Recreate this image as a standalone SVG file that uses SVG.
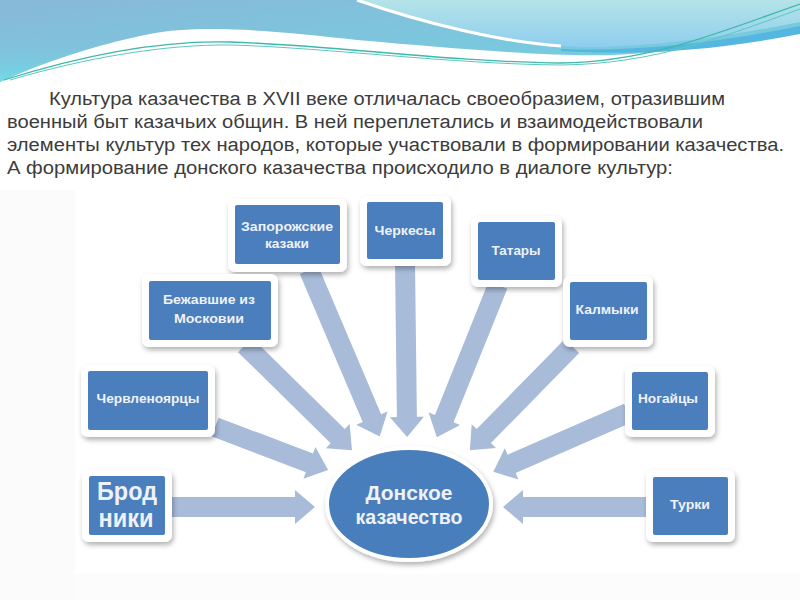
<svg xmlns="http://www.w3.org/2000/svg" width="800" height="600" viewBox="0 0 800 600">
<defs>
<linearGradient id="gBand" x1="0" y1="0" x2="1" y2="1">
<stop offset="0" stop-color="#88b9d8"/>
<stop offset="0.5" stop-color="#7cc6dd"/>
<stop offset="1" stop-color="#6fd3e2"/>
</linearGradient>
<linearGradient id="gBandL" x1="0" y1="0" x2="0" y2="1">
<stop offset="0" stop-color="#84b8d8" stop-opacity="0"/>
<stop offset="1" stop-color="#6fe0ec"/>
</linearGradient>
<linearGradient id="gTR" x1="0" y1="0" x2="0" y2="1">
<stop offset="0" stop-color="#b4e4e8"/>
<stop offset="1" stop-color="#8fcdef"/>
</linearGradient>
<filter id="sh" x="-20%" y="-20%" width="140%" height="150%">
<feDropShadow dx="1.5" dy="3" stdDeviation="2.5" flood-color="#000" flood-opacity="0.3"/>
</filter>
<style>
.frame{fill:#fff;filter:url(#sh)}
.box{fill:#4a7ebd}
.lbl{font-family:"Liberation Sans","Open Sans",sans-serif;font-weight:bold;font-size:12px;fill:#eef2f8;text-anchor:middle}
.big{font-size:25px}
.para{font-family:"Liberation Sans",Arial,sans-serif;font-size:18px;fill:#3c3c3c}
.arr{fill:#a8bbd9}
</style>
</defs>
<rect width="800" height="600" fill="#fff"/>
<rect x="0" y="190" width="75" height="410" fill="#fbfbfb"/>
<rect x="75" y="574" width="725" height="26" fill="#fcfcfc"/>
<!-- top decoration -->
<g id="decor">
<path d="M0,0 H800 V30 C740,40 690,52 612,55 C560,57 470,50 357,40 C280,31 200,24 150,34 C90,46 40,64 0,82 Z" fill="url(#gBand)"/>
<path d="M0,40 C60,40 120,30 150,34 C90,46 40,64 0,82 Z" fill="url(#gBandL)" opacity="0.8"/>
<path d="M357,0 C420,22 500,42 561,46 C630,50 710,40 800,22 V0 Z" fill="url(#gTR)"/>
<path d="M357,0 C420,22 500,42 561,46" fill="none" stroke="#fff" stroke-width="3"/>
<path d="M561,49 C640,52 720,42 800,26 L800,34 C720,50 640,56 561,51 Z" fill="#55b6e0"/>
<path d="M4,80 C80,56 160,40 230,42 C330,45 450,62 561,63 C650,62 720,32 800,4" fill="none" stroke="#3fb8aa" stroke-width="1.3"/>
<path d="M10,80 C85,58 165,44 232,45 C330,48 450,64 561,65 C655,64 725,36 800,9" fill="none" stroke="#5cc8c0" stroke-width="1"/>
</g>
<!-- paragraph -->
<g id="paragraph">
<text class="para" x="49" y="105" textLength="676" lengthAdjust="spacingAndGlyphs">Культура казачества в XVII веке отличалась своеобразием, отразившим</text>
<text class="para" x="7" y="128" textLength="696" lengthAdjust="spacingAndGlyphs">военный быт казачьих общин. В ней переплетались и взаимодействовали</text>
<text class="para" x="7" y="151" textLength="777" lengthAdjust="spacingAndGlyphs">элементы культур тех народов, которые участвовали в формировании казачества.</text>
<text class="para" x="7" y="174" textLength="666" lengthAdjust="spacingAndGlyphs">А формирование донского казачества происходило в диалоге культур:</text>
</g>
<!-- connectors -->
<g id="connectors">
<polygon class="arr" transform="translate(172,507)" points="0,-10 123,-10 123,-17 143,0 123,17 123,10 0,10"/>
<polygon class="arr" transform="translate(646,507) rotate(180)" points="0,-10 123,-10 123,-17 143,0 123,17 123,10 0,10"/>
<polygon class="arr" transform="translate(215,427) rotate(20.8)" points="0,-10 101,-10 101,-17 121,0 101,17 101,10 0,10"/>
<polygon class="arr" transform="translate(245,345) rotate(44.5)" points="0,-10 130,-10 130,-17 150,0 130,17 130,10 0,10"/>
<polygon class="arr" transform="translate(309,270) rotate(67)" points="0,-10 161,-10 161,-17 181,0 161,17 161,10 0,10"/>
<polygon class="arr" transform="translate(405,262) rotate(89.3)" points="0,-10 155,-10 155,-17 175,0 155,17 155,10 0,10"/>
<polygon class="arr" transform="translate(498,285) rotate(111.9)" points="0,-10 144,-10 144,-17 164,0 144,17 144,10 0,10"/>
<polygon class="arr" transform="translate(572,346) rotate(134.4)" points="0,-10 126,-10 126,-17 146,0 126,17 126,10 0,10"/>
<polygon class="arr" transform="translate(628,413) rotate(156.4)" points="0,-10 127,-10 127,-17 147,0 127,17 127,10 0,10"/>
</g>
<!-- nodes -->
<g id="zaporozhskie">
<rect class="frame" x="228" y="199" width="119" height="73" rx="7"/>
<rect class="box" x="235" y="205" width="105" height="59" rx="2"/>
<text class="lbl" x="287" y="231" textLength="92" lengthAdjust="spacingAndGlyphs">Запорожские</text>
<text class="lbl" x="287" y="248" textLength="44" lengthAdjust="spacingAndGlyphs">казаки</text>
</g>
<g id="bezhavshie">
<rect class="frame" x="142" y="274" width="136" height="73" rx="7"/>
<rect class="box" x="149" y="281" width="122" height="59" rx="2"/>
<text class="lbl" x="209" y="304" textLength="92" lengthAdjust="spacingAndGlyphs">Бежавшие из</text>
<text class="lbl" x="209" y="323" textLength="70" lengthAdjust="spacingAndGlyphs">Московии</text>
</g>
<g id="cherkesy">
<rect class="frame" x="360" y="196" width="91" height="70" rx="7"/>
<rect class="box" x="367" y="202" width="76" height="57" rx="2"/>
<text class="lbl" x="405" y="235" textLength="61" lengthAdjust="spacingAndGlyphs">Черкесы</text>
</g>
<g id="tatary">
<rect class="frame" x="471" y="216" width="91" height="71" rx="7"/>
<rect class="box" x="478" y="222" width="77" height="58" rx="2"/>
<text class="lbl" x="516" y="255" textLength="49" lengthAdjust="spacingAndGlyphs">Татары</text>
</g>
<g id="kalmyki">
<rect class="frame" x="563" y="276" width="90" height="71" rx="7"/>
<rect class="box" x="570" y="282" width="77" height="58" rx="2"/>
<text class="lbl" x="607" y="314" textLength="63" lengthAdjust="spacingAndGlyphs">Калмыки</text>
</g>
<g id="chervlenoyartsy">
<rect class="frame" x="81" y="365" width="134" height="72" rx="7"/>
<rect class="box" x="88" y="371" width="120" height="59" rx="2"/>
<text class="lbl" x="148" y="403" textLength="103" lengthAdjust="spacingAndGlyphs">Червленоярцы</text>
</g>
<g id="brodniki">
<rect class="frame" x="82" y="470" width="90" height="72" rx="7"/>
<rect class="box" x="89" y="476" width="76" height="59" rx="2"/>
<text class="lbl big" x="127" y="500" textLength="60" lengthAdjust="spacingAndGlyphs">Брод</text>
<text class="lbl big" x="126" y="527" textLength="55" lengthAdjust="spacingAndGlyphs">ники</text>
</g>
<g id="nogaitsy">
<rect class="frame" x="625" y="366" width="90" height="71" rx="7"/>
<rect class="box" x="632" y="372" width="76" height="58" rx="2"/>
<text class="lbl" x="668" y="403" textLength="60" lengthAdjust="spacingAndGlyphs">Ногайцы</text>
</g>
<g id="turki">
<rect class="frame" x="646" y="470" width="89" height="72" rx="7"/>
<rect class="box" x="653" y="477" width="75" height="58" rx="2"/>
<text class="lbl" x="690" y="509" textLength="40" lengthAdjust="spacingAndGlyphs">Турки</text>
</g>
<g id="donskoe">
<ellipse cx="409" cy="504" rx="82" ry="56" fill="#4a7ebd" stroke="#fff" stroke-width="4" filter="url(#sh)"/>
<text class="lbl" style="font-size:21px" x="409" y="500" textLength="87" lengthAdjust="spacingAndGlyphs">Донское</text>
<text class="lbl" style="font-size:21px" x="409" y="524" textLength="107" lengthAdjust="spacingAndGlyphs">казачество</text>
</g>
</svg>
